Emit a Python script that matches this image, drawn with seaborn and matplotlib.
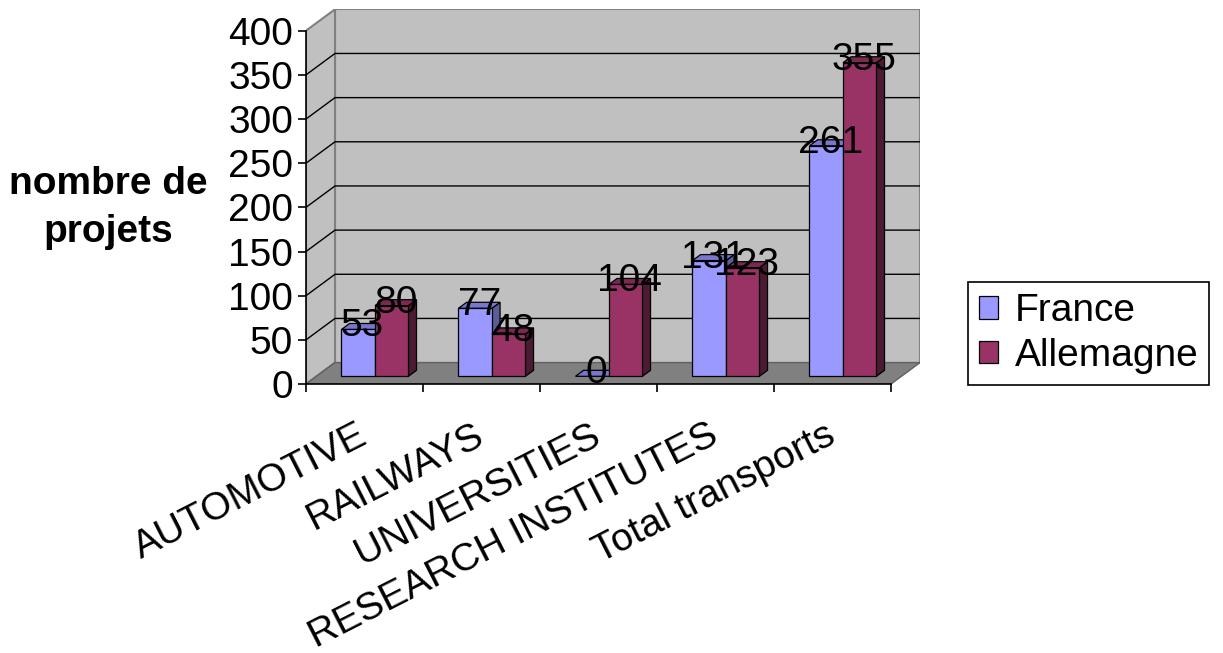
import matplotlib
matplotlib.use("Agg")
import matplotlib.pyplot as plt
import matplotlib.transforms as mtransforms
from matplotlib.patches import Polygon
import seaborn as sns
import pandas as pd
import numpy as np

# === Data ===
categories = ["AUTOMOTIVE", "RAILWAYS", "UNIVERSITIES", "RESEARCH INSTITUTES", "Total transports"]
france = [53, 77, 0, 131, 261]
allemagne = [80, 48, 104, 123, 355]
series = ["France", "Allemagne"]
y_ticks = [0, 50, 100, 150, 200, 250, 300, 350, 400]

colors = {"France": "#9999ff", "Allemagne": "#993366"}
top_colors = {"France": "#7777cc", "Allemagne": "#7a2952"}
side_colors = {"France": "#5c5c99", "Allemagne": "#4d1a33"}

df = pd.DataFrame({
    "categorie": categories * 2,
    "pays": ["France"] * len(categories) + ["Allemagne"] * len(categories),
    "projets": france + allemagne,
})

# === Style ===
sns.set_style("white")
plt.rcParams["font.family"] = ["Liberation Sans", "DejaVu Sans"]
for k in ["text.color", "axes.labelcolor", "xtick.color", "ytick.color"]:
    plt.rcParams[k] = "black"
FS = 28

W, H = 1223, 653
fig = plt.figure(figsize=(W / 100, H / 100), dpi=100)
ax = fig.add_axes([306 / W, (H - 384) / H, 614 / W, 374.7 / H])

ymax = 400
DX = 29 / 117          # depth shift in category units
DY = 21.4 / 0.8834     # depth shift in value units
f0, f1 = 0.36, 0.64    # bar front / back depth

# walls and floor
ax.add_patch(Polygon([(-0.5 + DX, DY), (4.5 + DX, DY), (4.5 + DX, ymax + DY), (-0.5 + DX, ymax + DY)],
                     closed=True, facecolor="#c0c0c0", edgecolor="#808080", lw=1.5, zorder=0))
ax.add_patch(Polygon([(-0.5, 0), (-0.5 + DX, DY), (-0.5 + DX, ymax + DY), (-0.5, ymax)],
                     closed=True, facecolor="#c0c0c0", edgecolor="#808080", lw=1.5, zorder=0))
ax.add_patch(Polygon([(-0.5, 0), (4.5, 0), (4.5 + DX, DY), (-0.5 + DX, DY)],
                     closed=True, facecolor="#808080", edgecolor="#606060", lw=1, zorder=0.5))
for v in y_ticks[1:-1]:
    ax.plot([-0.5, -0.5 + DX, 4.5 + DX], [v, v + DY, v + DY], color="black", lw=1, zorder=0.3)

# === Bars ===
sns.barplot(data=df, x="categorie", y="projets", hue="pays", order=categories, hue_order=series,
            palette=colors, width=0.572, saturation=1, errorbar=None,
            edgecolor="black", linewidth=0.9, ax=ax)

for j, (name, cont) in enumerate(zip(series, ax.containers)):
    vals = france if name == "France" else allemagne
    for i, (rect, v) in enumerate(zip(cont.patches, vals)):
        x0 = rect.get_x() + f0 * DX
        w = rect.get_width()
        y0 = f0 * DY
        dd = f1 - f0
        z = 3 + i + 0.5 * j
        rect.set_x(x0)
        rect.set_y(y0)
        rect.set_zorder(z + 0.2)
        if v == 0:
            rect.set_visible(False)
        top = [(x0, v + y0), (x0 + w, v + y0), (x0 + w + dd * DX, v + f1 * DY), (x0 + dd * DX, v + f1 * DY)]
        ax.add_patch(Polygon(top, closed=True, facecolor=top_colors[name], edgecolor="black", lw=0.9, zorder=z + 0.1))
        if v > 0:
            side = [(x0 + w, y0), (x0 + w + dd * DX, f1 * DY), (x0 + w + dd * DX, v + f1 * DY), (x0 + w, v + y0)]
            ax.add_patch(Polygon(side, closed=True, facecolor=side_colors[name], edgecolor="black", lw=0.9, zorder=z))
        ax.text(x0 + w / 2 + dd * DX / 2, v + (f0 + f1) / 2 * DY, str(v), ha="center", va="center",
                fontsize=FS, color="black", zorder=30)

# === Axes ===
ax.set_xlim(-0.5, 4.5 + DX)
ax.set_ylim(0, ymax + DY)
for s in ["top", "right"]:
    ax.spines[s].set_visible(False)
ax.spines["left"].set_bounds(0, ymax)
ax.spines["bottom"].set_bounds(-0.5, 4.5)
for s in ["left", "bottom"]:
    ax.spines[s].set_color("black")
    ax.spines[s].set_linewidth(1.2)
    ax.spines[s].set_zorder(2)

ax.set_yticks(y_ticks)
ax.set_yticklabels([str(t) for t in y_ticks], fontsize=FS)
ax.set_xticks(np.arange(-0.5, 5, 1.0))
ax.set_xticklabels([])
ax.set_xticks(np.arange(len(categories)), minor=True)
ax.set_xticklabels(categories, minor=True, fontsize=FS, rotation=27, ha="right", va="top",
                   rotation_mode="anchor")
ax.tick_params(axis="y", which="major", direction="out", length=5.8, width=1.2, color="black", pad=3.5, left=True)
ax.tick_params(axis="x", which="major", direction="out", length=5.8, width=1.2, color="black", bottom=True)
ax.tick_params(axis="x", which="minor", length=0, pad=24)
shift = mtransforms.ScaledTranslation(-6 / 72, 0, fig.dpi_scale_trans)
for lab in ax.get_xticklabels(minor=True):
    lab.set_transform(lab.get_transform() + shift)

ax.set_xlabel("")
ax.set_ylabel("nombre de\nprojets", fontsize=FS, fontweight="bold", rotation=0, ha="center", va="center",
              linespacing=1.42)
ax.yaxis.set_label_coords((108 - 306) / 614, (384 - 208) / 374.7)

# === Legend ===
sns.move_legend(ax, "center left", bbox_to_anchor=(968 / W, 1 - 333.5 / H), bbox_transform=fig.transFigure,
                title=None, frameon=True, fancybox=False, fontsize=FS, handlelength=0.5, handleheight=0.5,
                handletextpad=0.42, labelspacing=0.22, borderpad=0.28, borderaxespad=0)
leg = ax.get_legend()
leg.get_frame().set_edgecolor("black")
leg.get_frame().set_linewidth(1.2)
leg.get_frame().set_alpha(1)

fig.savefig("out.png", dpi=100, facecolor="white")
